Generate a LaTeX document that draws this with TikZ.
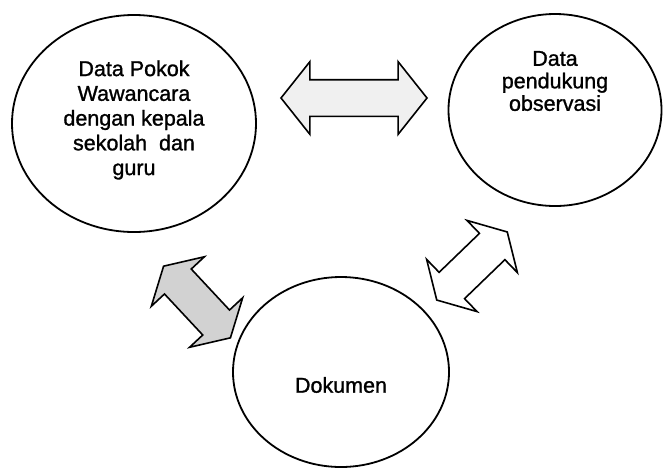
\documentclass[tikz,border=0pt]{standalone}
\usepackage{fontspec}
\setmainfont[FakeBold=1.2]{Liberation Sans}
\usetikzlibrary{shapes.geometric,shapes.arrows}
\begin{document}
\begin{tikzpicture}[x=1pt,y=-1pt,
  circ/.style={ellipse,draw,line width=1.8pt,inner sep=0pt},
  lbl/.style={align=center,inner sep=0pt,font=\fontsize{21.5}{24.75}\selectfont},
  darrow/.style={double arrow,draw,line width=1.6pt,inner xsep=0pt,inner ysep=17.5pt,double arrow head extend=18pt}]
\useasboundingbox (0,0) rectangle (663,467);
\node[circ,minimum width=244pt,minimum height=217pt] (pokok) at (134,123.5) {};
\node[lbl] (pokokt) at (134,120) {Data Pokok\\Wawancara\\dengan kepala\\sekolah\ \ dan\\guru};
\node[circ,minimum width=213pt,minimum height=192pt] (obs) at (555,110) {};
\node[lbl,font=\fontsize{21.5}{22.5}\selectfont] (obst) at (555,81) {Data\\pendukung\\observasi};
\node[circ,minimum width=216pt,minimum height=190pt] (dok) at (341,372) {};
\node[lbl] (dokt) at (341,385) {Dokumen};
\node[darrow,minimum height=146pt,double arrow tip angle=103,fill=gray!12] (a1) at (354,98) {};
\node[darrow,minimum height=98pt,double arrow tip angle=120,rotate=-47,fill=gray!35] (a2) at (197,302) {};
\node[darrow,minimum height=98pt,double arrow tip angle=120,rotate=44,fill=white] (a3) at (472,266) {};
\end{tikzpicture}
\end{document}
